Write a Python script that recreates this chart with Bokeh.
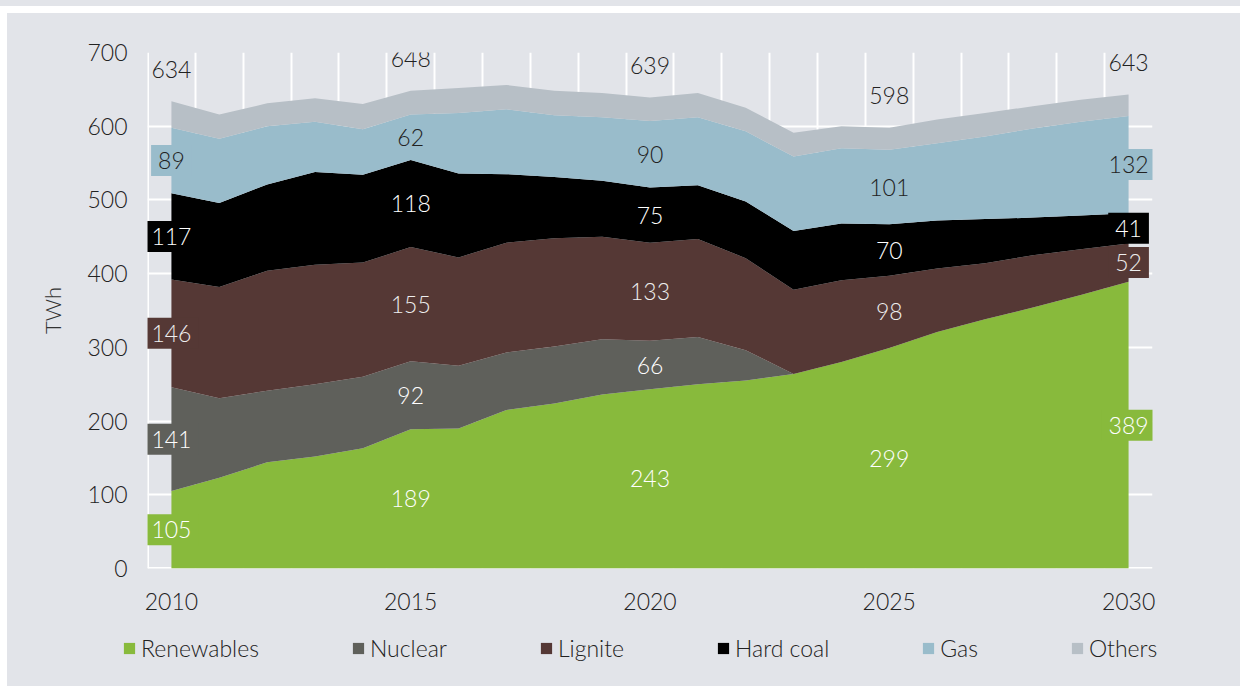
from bokeh.plotting import figure
from bokeh.layouts import column, row
from bokeh.models import ColumnDataSource, Range1d, FixedTicker, Legend, LegendItem, Span, Spacer
from bokeh.embed import file_html
from bokeh.resources import INLINE
from bokeh.core.properties import value

# ---------------- data (TWh) ----------------
years = list(range(2010, 2031))
renewables = [105, 123, 144, 152, 163, 189, 190, 215, 224, 236, 243, 250, 255, 264, 280, 299, 321, 338, 354, 371, 389]
nuclear = [141, 108, 97, 98, 97, 92, 85, 78, 77, 75, 66, 64, 41, 0, 0, 0, 0, 0, 0, 0, 0]
lignite = [146, 151, 163, 162, 155, 155, 147, 149, 147, 139, 133, 133, 125, 114, 111, 98, 86, 76, 71, 62, 52]
hard_coal = [117, 114, 117, 126, 119, 118, 114, 93, 83, 76, 75, 73, 77, 80, 77, 70, 65, 60, 51, 46, 41]
gas = [89, 87, 79, 68, 62, 62, 82, 88, 84, 86, 90, 92, 95, 101, 102, 101, 105, 112, 121, 127, 132]
others = [36, 33, 31, 32, 34, 32, 34, 33, 33, 33, 32, 33, 32, 32, 30, 30, 32, 32, 30, 30, 29]

series_names = ["Renewables", "Nuclear", "Lignite", "Hard coal", "Gas", "Others"]
series_values = [renewables, nuclear, lignite, hard_coal, gas, others]
label_years = [2010, 2015, 2020, 2025, 2030]
x_ticks = [2010, 2015, 2020, 2025, 2030]
y_ticks = [0, 100, 200, 300, 400, 500, 600, 700]

# ---------------- style ----------------
FONT = "Lato Light"
BG = "#e2e4e9"
colors = ["#88ba3c", "#5f605b", "#553835", "#000000", "#99bccb", "#b7bfc6"]
label_colors = ["#ffffff", "#ffffff", "#eeeeee", "#ffffff", "#222222", None]
TEXT = "#222222"

p = figure(width=1233, height=617, output_backend="svg", toolbar_location=None,
           x_range=Range1d(years[0] - 0.5, years[-1] + 0.5), y_range=Range1d(0, 700),
           min_border_left=140, min_border_right=88, min_border_top=39, min_border_bottom=62)
p.background_fill_color = BG
p.border_fill_color = BG
p.outline_line_color = None

# grid
p.ygrid.ticker = FixedTicker(ticks=y_ticks)
p.ygrid.grid_line_color = "white"
p.ygrid.grid_line_width = 2
p.xgrid.ticker = FixedTicker(ticks=[years[0] - 0.5] + [y + 0.5 for y in years])
p.xgrid.grid_line_color = "white"
p.xgrid.grid_line_width = 2
for sp in (Span(location=0, dimension="width"), Span(location=years[0] - 0.5, dimension="height")):
    sp.line_color = "white"
    sp.line_width = 3
    sp.level = "underlay"
    p.add_layout(sp)

# stacked areas
data = {"year": years}
for n, v in zip(series_names, series_values):
    data[n] = v
source = ColumnDataSource(data)
p.varea_stack(stackers=series_names, x="year", color=colors, source=source)

# labels
edge = dict(x=[], y=[], text=[], tc=[], bg=[])
mid = dict(x=[], y=[], text=[], tc=[])
tot = dict(x=[], y=[], text=[])
for yr in label_years:
    i = years.index(yr)
    base = 0
    for k, vals in enumerate(series_values):
        v = vals[i]
        if label_colors[k] is not None and v > 0:
            d = edge if yr in (years[0], years[-1]) else mid
            d["x"].append(yr)
            d["y"].append(base + v / 2)
            d["text"].append(str(v))
            d["tc"].append(label_colors[k])
            if d is edge:
                d["bg"].append(colors[k])
        base += v
    tot["x"].append(yr)
    tot["y"].append(base)
    tot["text"].append(str(base))

p.text(x="x", y="y", text="text", source=ColumnDataSource(edge), text_color="tc",
       text_font=value(FONT), text_font_size="23px", text_align="center", text_baseline="middle",
       background_fill_color="bg", padding=7)
p.text(x="x", y="y", text="text", source=ColumnDataSource(mid), text_color="tc",
       text_font=value(FONT), text_font_size="23px", text_align="center", text_baseline="middle")
p.text(x="x", y="y", text="text", source=ColumnDataSource(tot), text_color=TEXT,
       text_font=value(FONT), text_font_size="23px", text_align="center", text_baseline="middle",
       y_offset=-32)

# axes
for ax in (p.xaxis, p.yaxis):
    ax.axis_line_color = None
    ax.major_tick_line_color = None
    ax.minor_tick_line_color = None
    ax.major_tick_out = 0
    ax.major_tick_in = 0
    ax.major_label_text_font = FONT
    ax.major_label_text_font_size = "23px"
    ax.major_label_text_color = TEXT
p.xaxis.ticker = FixedTicker(ticks=x_ticks)
p.yaxis.ticker = FixedTicker(ticks=y_ticks)
p.xaxis.major_label_standoff = 24
p.yaxis.major_label_standoff = 20
p.yaxis.axis_label = "TWh"
p.yaxis.axis_label_text_font = FONT
p.yaxis.axis_label_text_font_size = "22px"
p.yaxis.axis_label_text_font_style = "normal"
p.yaxis.axis_label_text_color = "#333333"
p.yaxis.axis_label_standoff = 18

# legend strip (separate figure below the chart; areas out of its view)
pl = figure(width=1233, height=56, output_backend="svg", toolbar_location=None,
            x_range=Range1d(0, 1), y_range=Range1d(0, 1),
            min_border_left=0, min_border_right=0, min_border_top=0, min_border_bottom=0)
pl.frame_align = False
pl.background_fill_color = BG
pl.border_fill_color = BG
pl.outline_line_color = None
pl.axis.visible = False
pl.grid.visible = False
leg_renderers = pl.varea_stack(stackers=series_names, x="year", color=colors, source=source)
items = [LegendItem(label=n, renderers=[r]) for n, r in zip(series_names, leg_renderers)]
legend = Legend(items=items, orientation="horizontal", location=(115, 24))
legend.label_text_font = FONT
legend.label_text_font_size = "23px"
legend.label_text_color = TEXT
legend.glyph_width = 14
legend.glyph_height = 14
legend.label_standoff = 5
legend.spacing = 92
legend.padding = 0
legend.margin = 0
legend.border_line_color = None
legend.background_fill_alpha = 0
pl.add_layout(legend, "center")

layout = column(
    Spacer(width=1240, height=6, styles={"background-color": BG}),
    Spacer(width=1240, height=7),
    row(Spacer(width=7, height=673),
        column(p, pl, spacing=0, styles={"background-color": BG}),
        spacing=0),
    spacing=0,
)
open("out.html", "w").write(file_html(layout, INLINE))
